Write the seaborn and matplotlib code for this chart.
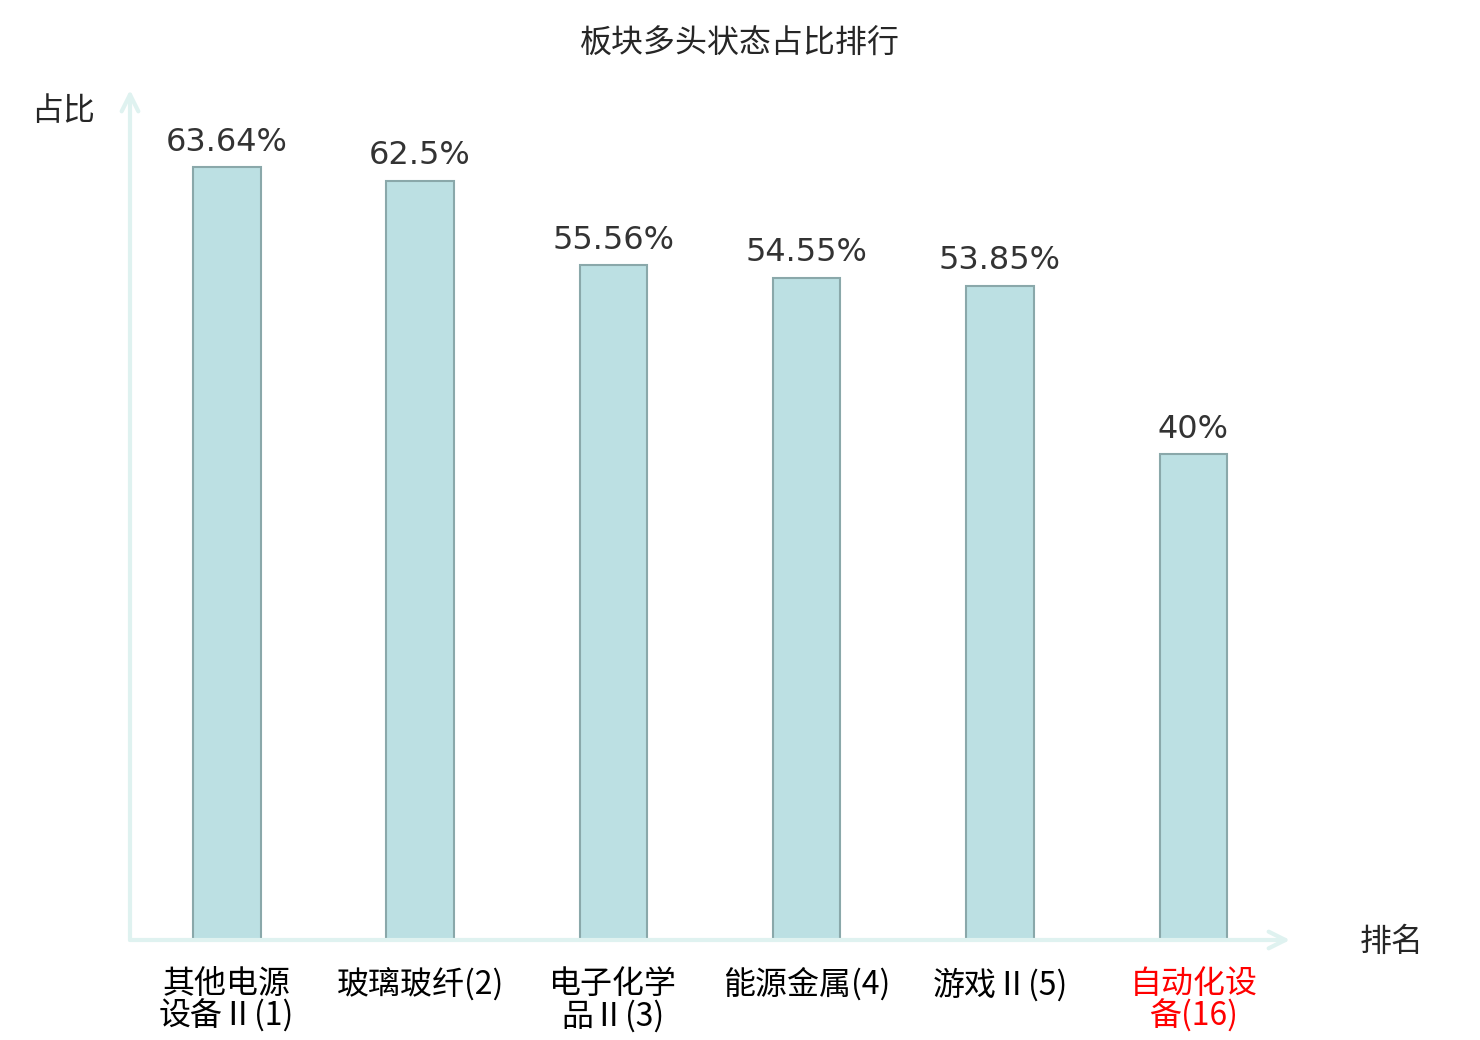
import pandas as pd
import matplotlib
matplotlib.use("Agg")
import matplotlib.pyplot as plt
import seaborn as sns

# chart data
categories = ["其他电源\n设备Ⅱ(1)", "玻璃玻纤(2)", "电子化学\n品Ⅱ(3)",
              "能源金属(4)", "游戏Ⅱ(5)", "自动化设\n备(16)"]
ratios = [63.64, 62.5, 55.56, 54.55, 53.85, 40]
value_labels = ["63.64%", "62.5%", "55.56%", "54.55%", "53.85%", "40%"]
highlight = "自动化设\n备(16)"

title = "板块多头状态占比排行"
y_name = "占比"
x_name = "排名"

sns.set_theme(style="white")
plt.rcParams["font.family"] = ["Noto Sans CJK SC", "DejaVu Sans"]

df = pd.DataFrame({"板块": categories, "占比": ratios})

fig = plt.figure(figsize=(14.8, 10.4), dpi=100)
ax = fig.add_axes([130 / 1480, 100 / 1040, 1160 / 1480, 850 / 1040])

sns.barplot(data=df, x="板块", y="占比", ax=ax, width=0.35, saturation=1,
            color="#bce0e3", edgecolor="#8aa8aa", linewidth=1.5)

ax.set_xlim(-0.5, 5.5)
ax.set_ylim(0, 70)
ax.set_xlabel("")
ax.set_ylabel("")
ax.set_yticks([])
for s in ax.spines.values():
    s.set_visible(False)

# value labels above bars
for i, (v, lab) in enumerate(zip(ratios, value_labels)):
    ax.annotate(lab, (i, v), xytext=(0, 7), textcoords="offset points",
                ha="center", va="bottom", fontsize=23, color="#333333",
                family=["DejaVu Sans"])

# category labels
ax.set_xticks(range(len(categories)))
ax.set_xticklabels(categories, fontsize=23, linespacing=1.0)
ax.tick_params(axis="x", length=0, pad=20)
for t in ax.get_xticklabels():
    t.set_color("#ff0000" if t.get_text() == highlight else "#000000")

# axis arrows
axis_color = "#dff2f0"
ax.annotate("", xy=(0, 1.0), xytext=(0, 0), xycoords="axes fraction",
            arrowprops=dict(arrowstyle="->", color=axis_color, lw=3,
                            mutation_scale=30, shrinkA=0, shrinkB=0))
ax.annotate("", xy=(1.0, 0), xytext=(0, 0), xycoords="axes fraction",
            arrowprops=dict(arrowstyle="->", color=axis_color, lw=3,
                            mutation_scale=30, shrinkA=0, shrinkB=0))

fig.text(740 / 1480, 1 - 44 / 1040, title, ha="center", va="center", fontsize=23)
fig.text(63 / 1480, 1 - 111 / 1040, y_name, ha="center", va="center", fontsize=23)
fig.text(1392 / 1480, 1 - 942 / 1040, x_name, ha="center", va="center", fontsize=23)

fig.savefig("out.png", dpi=100)
